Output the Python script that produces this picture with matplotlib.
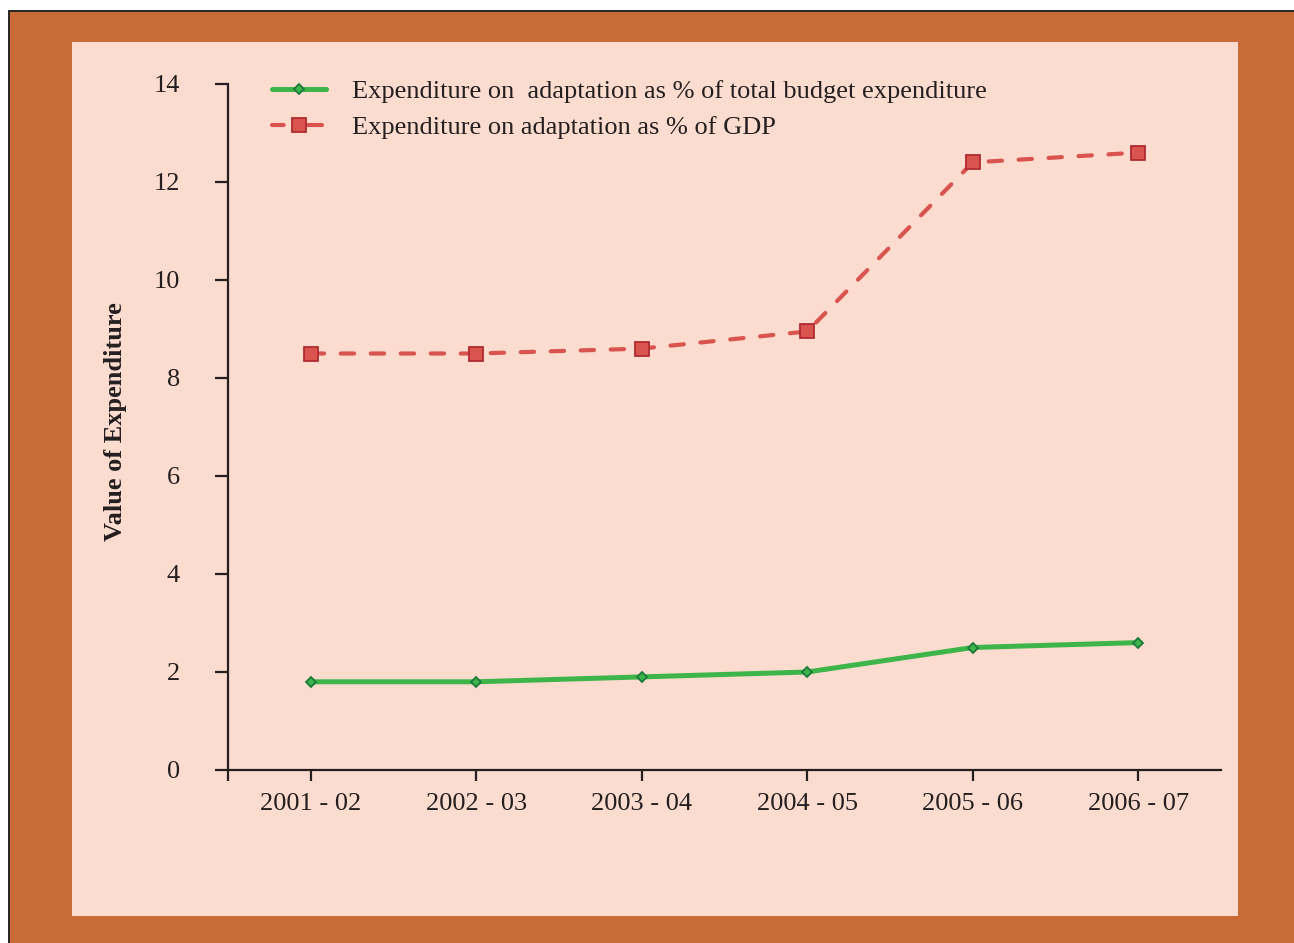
import matplotlib
matplotlib.use("Agg")
import matplotlib.pyplot as plt
from matplotlib.patches import Rectangle

# data
years = ["2001 - 02", "2002 - 03", "2003 - 04", "2004 - 05", "2005 - 06", "2006 - 07"]
pct_budget = [1.8, 1.8, 1.9, 2.0, 2.5, 2.6]
pct_gdp = [8.5, 8.5, 8.6, 8.95, 12.4, 12.6]
y_ticks = [0, 2, 4, 6, 8, 10, 12, 14]

plt.rcParams['font.family'] = ['Liberation Serif', 'DejaVu Serif']

W, H = 1294, 943
fig = plt.figure(figsize=(W / 100, H / 100), dpi=100)
fig.patch.set_facecolor("white")

# frame: black border, orange band, pink panel
def px_rect(x0, y0, x1, y1, **kw):
    return Rectangle((x0 / W, 1 - y1 / H), (x1 - x0) / W, (y1 - y0) / H,
                     transform=fig.transFigure, **kw)

fig.patches.append(px_rect(8, 10, 1300, 950, facecolor="#2a2a2a", edgecolor="none", zorder=-3))
fig.patches.append(px_rect(10, 12, 1300, 950, facecolor="#C86B37", edgecolor="none", zorder=-2))
fig.patches.append(px_rect(72, 42, 1238, 916, facecolor="#FCDCCE", edgecolor="none", zorder=-1))

ax = fig.add_axes([228 / W, 1 - 770 / H, (1221 - 228) / W, (770 - 84) / H])
ax.set_facecolor("none")
ax.set_zorder(5)

x = list(range(len(years)))
ax.plot(x, pct_budget, color="#3DB54A", lw=3.6, solid_capstyle="round",
        marker="D", markersize=5.5, markerfacecolor="#3DB54A",
        markeredgecolor="#1B7A3A", markeredgewidth=1.3,
        label="Expenditure on  adaptation as % of total budget expenditure", zorder=3)
ax.plot(x, pct_gdp, color="#D9534F", lw=3, linestyle=(0, (3.2, 4.0)),
        dash_capstyle="round", marker="s", markersize=9.5,
        markerfacecolor="#D9534F", markeredgecolor="#B02A30", markeredgewidth=1.3,
        label="Expenditure on adaptation as % of GDP", zorder=3)

ax.set_xlim(-0.5, 5.5)
ax.set_ylim(0, 14)
ax.set_xticks([-0.5] + x)
ax.set_xticklabels([""] + years)
ax.set_yticks(y_ticks)
ax.set_yticklabels([str(v) for v in y_ticks])

for s in ["top", "right"]:
    ax.spines[s].set_visible(False)
for s in ["left", "bottom"]:
    ax.spines[s].set_linewidth(1.6)
    ax.spines[s].set_color("#231F20")

ax.tick_params(axis="y", direction="out", length=9.5, width=1.6, color="#231F20",
               pad=25, labelsize=19, labelcolor="#231F20")
ax.tick_params(axis="x", direction="out", length=8, width=1.6, color="#231F20",
               pad=8.5, labelsize=19, labelcolor="#231F20")
for lbl in ax.get_yticklabels():
    lbl.set_verticalalignment("center_baseline")

ax.set_ylabel("Value of Expenditure", fontsize=19, fontweight="bold", color="#231F20")
ax.yaxis.set_label_coords(127 / W, 1 - 422 / H, transform=fig.transFigure)

leg = ax.legend(loc="upper left", bbox_to_anchor=(272 / W, 1 - 80 / H),
                bbox_transform=fig.transFigure, frameon=False, fontsize=19,
                handlelength=2.05, handletextpad=1.0, labelspacing=0.46,
                borderaxespad=0, borderpad=0)
for t in leg.get_texts():
    t.set_color("#231F20")
# red legend sample: dash, square, dash
leg.get_lines()[1].set_linestyle((0, (2.8, 3.2, 6.0, 10)))

fig.savefig("out.png", dpi=100, facecolor=fig.get_facecolor())
